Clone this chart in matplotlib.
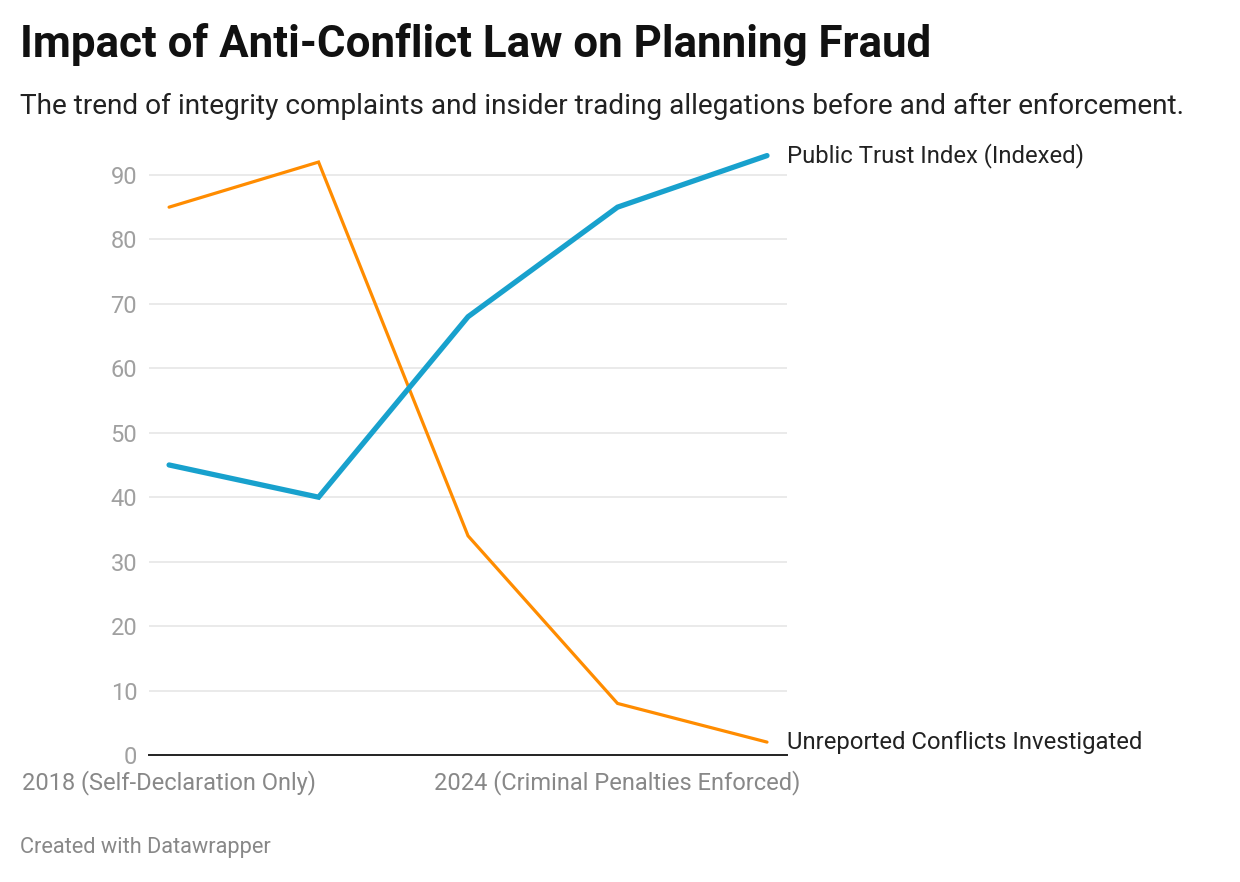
import numpy as np
import matplotlib.pyplot as plt

plt.rcParams['font.family'] = ['Roboto', 'DejaVu Sans']

# periods (only two get a visible label, like the original)
periods = ['2018 (Self-Declaration Only)', '', '', '2024 (Criminal Penalties Enforced)', '']
unreported = [85, 92, 34, 8, 2]
trust = [45, 40, 68, 85, 93]
y_ticks = [0, 10, 20, 30, 40, 50, 60, 70, 80, 90]

orange = '#ff8c00'
blue = '#18a1cd'
grey = '#a0a0a0'

fig = plt.figure(figsize=(12.4, 8.82), dpi=100)
ax = fig.add_axes([0.1202, 0.144, 0.5145, 0.7015])

x = np.arange(len(periods))
ax.plot(x, unreported, color=orange, lw=2.3, solid_capstyle='round', solid_joinstyle='miter', zorder=3)
ax.plot(x, trust, color=blue, lw=3.8, solid_capstyle='round', solid_joinstyle='miter', zorder=4)

ax.set_xlim(-0.134, 4.134)
ax.set_ylim(0, 96)

ax.set_yticks(y_ticks)
ax.set_yticklabels([str(v) for v in y_ticks])
ax.tick_params(axis='y', length=0, pad=8.5, labelsize=17, labelcolor=grey)
for v in y_ticks[1:]:
    ax.axhline(v, color='#e4e4e4', lw=1.1, zorder=1)

lab_idx = [i for i, p in enumerate(periods) if p]
ax.set_xticks(lab_idx)
ax.set_xticklabels([periods[i] for i in lab_idx])
ax.tick_params(axis='x', length=0, pad=11, labelsize=17, labelcolor='#888888')

for s in ['top', 'right', 'left']:
    ax.spines[s].set_visible(False)
ax.spines['bottom'].set_color('#222222')
ax.spines['bottom'].set_linewidth(1.4)

# line labels at the right end
ax.annotate('Public Trust Index (Indexed)', xy=(x[-1], trust[-1]), xytext=(14.4, 0),
            textcoords='offset points', ha='left', va='center', fontsize=17.2, color='#222222')
ax.annotate('Unreported Conflicts Investigated', xy=(x[-1], unreported[-1]), xytext=(14.4, 0),
            textcoords='offset points', ha='left', va='center', fontsize=17.2, color='#222222')

fig.text(20 / 1240, 1 - 45 / 882, 'Impact of Anti-Conflict Law on Planning Fraud',
         fontsize=31.6, fontweight='bold', color='#111111', va='center', ha='left')
fig.text(20 / 1240, 1 - 106 / 882,
         'The trend of integrity complaints and insider trading allegations before and after enforcement.',
         fontsize=20.2, color='#222222', va='center', ha='left')
fig.text(20 / 1240, 1 - 848 / 882, 'Created with Datawrapper',
         fontsize=15.7, color='#888888', va='center', ha='left')

fig.savefig('out.png', dpi=100, facecolor='white')
